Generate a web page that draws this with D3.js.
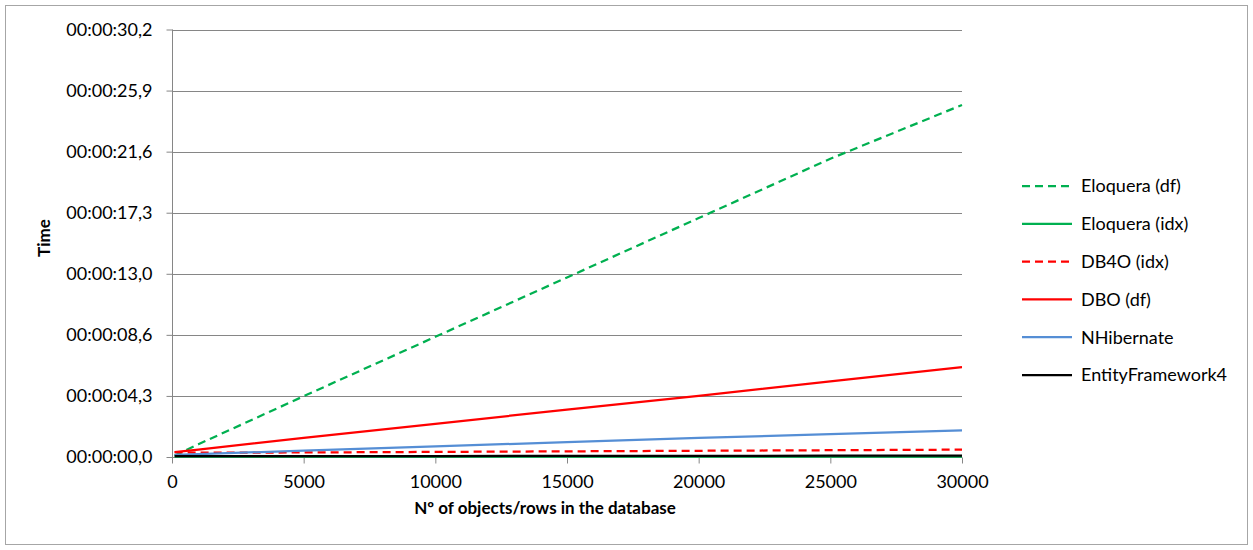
<!DOCTYPE html>
<html>
<head>
<meta charset="utf-8">
<script src="https://cdn.jsdelivr.net/npm/d3@7"></script>
<style>
  html, body { margin: 0; padding: 0; background: #fff; }
  svg { display: block; font-family: Lato, "Open Sans", sans-serif; }
</style>
</head>
<body>
<svg id="chart" width="1253" height="550"></svg>
<script>
// Number of objects/rows in the database (x values)
const rows = [100, 1000, 5000, 10000, 15000, 20000, 25000, 30000];

// Query time in seconds for each engine
const eloqueraDf  = [0.10, 0.90, 4.30, 8.50, 12.70, 16.90, 21.10, 24.90];
const eloqueraIdx = [0.02, 0.02, 0.02, 0.02, 0.02, 0.02, 0.03, 0.03];
const db4oIdx     = [0.34, 0.31, 0.32, 0.36, 0.40, 0.44, 0.48, 0.52];
const dboDf       = [0.34, 0.52, 1.35, 2.35, 3.35, 4.32, 5.35, 6.35];
const nhibernate  = [0.15, 0.20, 0.45, 0.75, 1.05, 1.35, 1.62, 1.89];
const entityFw4   = [0.06, 0.06, 0.07, 0.07, 0.08, 0.08, 0.09, 0.09];

const seriesNames = ["Eloquera (df)", "Eloquera (idx)", "DB4O (idx)", "DBO (df)", "NHibernate", "EntityFramework4"];

// Axis ticks: seconds and their hh:mm:ss,f labels
const yTickValues = [0, 4.32, 8.64, 12.96, 17.28, 21.6, 25.92, 30.24];
const yTickLabels = ["00:00:00,0", "00:00:04,3", "00:00:08,6", "00:00:13,0", "00:00:17,3", "00:00:21,6", "00:00:25,9", "00:00:30,2"];
const xTickValues = [0, 5000, 10000, 15000, 20000, 25000, 30000];

const series = [
  { name: seriesNames[0], values: eloqueraDf,  color: "#00B050", dash: "8,5" },
  { name: seriesNames[1], values: eloqueraIdx, color: "#00B050", dash: null },
  { name: seriesNames[2], values: db4oIdx,     color: "#FF0000", dash: "8,5" },
  { name: seriesNames[3], values: dboDf,       color: "#FF0000", dash: null },
  { name: seriesNames[4], values: nhibernate,  color: "#558ED5", dash: null },
  { name: seriesNames[5], values: entityFw4,   color: "#000000", dash: null }
];

const svg = d3.select("#chart");
const grid = "#868686";
const labelSize = "18px";

// Outer chart frame
svg.append("rect")
  .attr("x", 5.5).attr("y", 5.5)
  .attr("width", 1242).attr("height", 539)
  .attr("fill", "#fff").attr("stroke", "#a6a6a6").attr("stroke-width", 1);

const plot = { left: 172, right: 962, top: 29.5, bottom: 457 };

const x = d3.scaleLinear().domain([0, 30000]).range([plot.left, plot.right]);
const y = d3.scaleLinear().domain([0, 30.24]).range([plot.bottom, plot.top]);

// Horizontal gridlines
svg.append("g")
  .selectAll("line")
  .data(yTickValues.slice(1))
  .join("line")
  .attr("x1", plot.left).attr("x2", plot.right)
  .attr("y1", d => Math.round(y(d)) + 0.5).attr("y2", d => Math.round(y(d)) + 0.5)
  .attr("stroke", grid).attr("stroke-width", 1);

// Y axis
const yAxis = d3.axisLeft(y)
  .tickValues(yTickValues)
  .tickFormat((d, i) => yTickLabels[i])
  .tickSize(6)
  .tickPadding(14);
const gy = svg.append("g")
  .attr("transform", `translate(${plot.left + 0.5},0)`)
  .call(yAxis);
gy.select(".domain").attr("stroke", grid).attr("d", `M0,${plot.top}V${plot.bottom + 6}`);
gy.selectAll(".tick line").attr("stroke", grid);
gy.selectAll(".tick text").attr("fill", "#000").style("font-size", labelSize).style("font-family", "Lato, sans-serif");

// X axis
const xAxis = d3.axisBottom(x)
  .tickValues(xTickValues)
  .tickFormat(d3.format("d"))
  .tickSize(6)
  .tickPadding(12);
const gx = svg.append("g")
  .attr("transform", `translate(0,${plot.bottom + 0.5})`)
  .call(xAxis);
gx.select(".domain").attr("stroke", grid).attr("d", `M${plot.left},0H${plot.right}`);
gx.selectAll(".tick line").attr("stroke", grid);
gx.selectAll(".tick text").attr("fill", "#000").style("font-size", labelSize).style("font-family", "Lato, sans-serif");

// Series lines
const line = d3.line()
  .x((d, i) => x(rows[i]))
  .y(d => y(d));

svg.append("g")
  .selectAll("path")
  .data(series)
  .join("path")
  .attr("d", s => line(s.values))
  .attr("fill", "none")
  .attr("stroke", s => s.color)
  .attr("stroke-width", 2.25)
  .attr("stroke-dasharray", s => s.dash);

// Axis titles
svg.append("text")
  .attr("x", 545).attr("y", 514)
  .attr("text-anchor", "middle")
  .style("font-size", "17px").style("font-weight", "bold")
  .text("Nº of objects/rows in the database");

svg.append("text")
  .attr("transform", "translate(50,238) rotate(-90)")
  .attr("text-anchor", "middle")
  .style("font-size", "17px").style("font-weight", "bold")
  .text("Time");

// Legend
const legend = svg.append("g").attr("transform", "translate(1022,186)");
const item = legend.selectAll("g")
  .data(series)
  .join("g")
  .attr("transform", (d, i) => `translate(0,${i * 37.8})`);
item.append("line")
  .attr("x1", 0).attr("x2", 50).attr("y1", 0).attr("y2", 0)
  .attr("stroke", d => d.color).attr("stroke-width", 2.25)
  .attr("stroke-dasharray", d => d.dash);
item.append("text")
  .attr("x", 59).attr("y", 0).attr("dy", "0.35em")
  .style("font-size", labelSize)
  .text(d => d.name);
</script>
</body>
</html>
